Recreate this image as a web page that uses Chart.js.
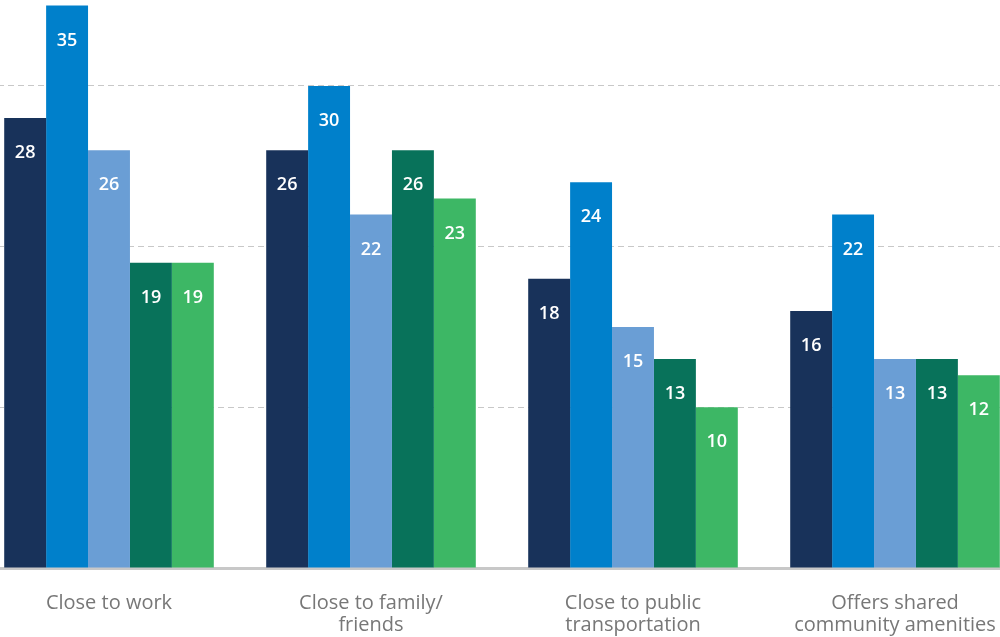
<!DOCTYPE html>
<html>
<head>
<meta charset="utf-8">
<script src="https://cdn.jsdelivr.net/npm/chart.js@4.4.0/dist/chart.umd.min.js"></script>
<style>
html,body{margin:0;padding:0;background:#fff;overflow:hidden;width:1000px;height:637px;}
#wrap{position:absolute;left:-22px;top:0;width:1048px;height:662px;}
</style>
</head>
<body>
<div id="wrap"><canvas id="c"></canvas></div>
<script>
const categories = [["Close to work"], ["Close to family/", "friends"], ["Close to public", "transportation"], ["Offers shared", "community amenities"]];
const series1 = [28, 26, 18, 16];
const series2 = [35, 30, 24, 22];
const series3 = [26, 22, 15, 13];
const series4 = [19, 26, 13, 13];
const series5 = [19, 23, 10, 12];
const colors = ["#18325a", "#0080cb", "#6a9ed5", "#08725a", "#3db765"];
const seriesList = [series1, series2, series3, series4, series5];

const labelPlugin = {
  id: 'valueLabels',
  afterDatasetsDraw(chart) {
    const ctx = chart.ctx;
    ctx.save();
    ctx.fillStyle = '#ffffff';
    ctx.font = '600 18px "Open Sans"';
    ctx.textAlign = 'center';
    ctx.textBaseline = 'middle';
    chart.data.datasets.forEach((ds, i) => {
      chart.getDatasetMeta(i).data.forEach((bar, j) => {
        ctx.fillText(String(ds.data[j]), bar.x, bar.y + 35);
      });
    });
    ctx.restore();
  }
};

new Chart(document.getElementById('c'), {
  type: 'bar',
  data: {
    labels: categories,
    datasets: seriesList.map((s, i) => ({
      data: s,
      backgroundColor: colors[i],
      borderWidth: 0,
      categoryPercentage: 0.8,
      barPercentage: 1.0
    }))
  },
  options: {
    responsive: true,
    maintainAspectRatio: false,
    animation: false,
    layout: { padding: { top: 0, bottom: 2, left: 0, right: 0 } },
    plugins: { legend: { display: false }, tooltip: { enabled: false } },
    scales: {
      x: {
        grid: { display: false, drawTicks: false },
        border: { display: true, color: '#c8c8c8', width: 3 },
        ticks: {
          color: '#777777',
          font: { family: '"Open Sans"', size: 20, lineHeight: 1.1 },
          padding: 24,
          maxRotation: 0,
          autoSkip: false
        }
      },
      y: {
        min: 0,
        max: 35.35,
        afterBuildTicks(axis) { axis.ticks = [{value:0},{value:10},{value:20},{value:30}]; },
        ticks: { display: false },
        grid: {
          drawTicks: false,
          color: (c) => c.tick && c.tick.value === 0 ? 'rgba(0,0,0,0)' : '#c8c8c8',
          lineWidth: 1
        },
        border: { display: false, dash: [6, 4] }
      }
    }
  },
  plugins: [labelPlugin]
});
</script>
</body>
</html>
